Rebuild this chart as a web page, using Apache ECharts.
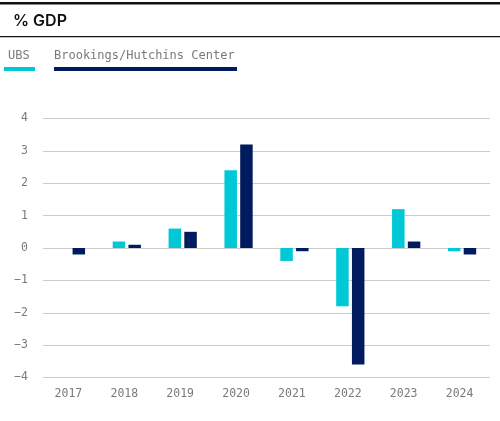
<!DOCTYPE html>
<html>
<head>
<meta charset="utf-8">
<script src="https://cdn.jsdelivr.net/npm/echarts@6/dist/echarts.min.js"></script>
<style>
  html, body { margin: 0; padding: 0; background: #fff; }
  #chart { width: 500px; height: 421px; }
</style>
</head>
<body>
<div id="chart"></div>
<script>
// Fiscal impulse estimates, % of GDP
const years = ['2017', '2018', '2019', '2020', '2021', '2022', '2023', '2024'];
const seriesNames = ['UBS', 'Brookings/Hutchins Center'];
const ubsValues = [null, 0.2, 0.6, 2.4, -0.4, -1.8, 1.2, -0.1];
const brookingsValues = [-0.2, 0.1, 0.5, 3.2, -0.1, -3.6, 0.2, -0.2];
const yTicks = [-4, -3, -2, -1, 0, 1, 2, 3, 4];

const colors = ['#00C8D7', '#001B5E'];
const mono = '"DejaVu Sans Mono", "Liberation Mono", monospace';

// legend: label text with a colour bar underneath
const legendLayout = [
  { textX: 8, barX: 4, barW: 31 },
  { textX: 54, barX: 54, barW: 183 }
];
const legendGraphics = [];
seriesNames.forEach((name, i) => {
  legendGraphics.push({
    type: 'text', left: legendLayout[i].textX, top: 50,
    style: { text: name, fill: '#7a7a7a', font: '12px ' + mono }
  });
  legendGraphics.push({
    type: 'rect', left: legendLayout[i].barX, top: 67,
    shape: { width: legendLayout[i].barW, height: 4 },
    style: { fill: colors[i] }
  });
});

const chart = echarts.init(document.getElementById('chart'), null, { renderer: 'canvas' });
chart.setOption({
  animation: false,
  backgroundColor: '#fff',
  graphic: [
    { type: 'rect', left: 0, top: 2, shape: { width: 500, height: 2.5 }, style: { fill: '#111' } },
    { type: 'text', left: 13, top: 13,
      style: { text: '% GDP', fill: '#111', font: '600 16px Inter, "Noto Sans", sans-serif' } },
    { type: 'rect', left: 0, top: 36, shape: { width: 500, height: 1.2 }, style: { fill: '#111' } }
  ].concat(legendGraphics),
  grid: { left: 43, right: 10, top: 118.5, bottom: 421 - 377.5, containLabel: false },
  xAxis: {
    type: 'category',
    data: years,
    axisLine: { show: false },
    axisTick: { show: false },
    axisLabel: { color: '#7a7a7a', fontFamily: mono, fontSize: 11.5, margin: 11, padding: [0, 5, 0, 0] }
  },
  yAxis: {
    type: 'value',
    min: yTicks[0],
    max: yTicks[yTicks.length - 1],
    interval: 1,
    axisLine: { show: false },
    axisTick: { show: false },
    splitLine: { lineStyle: { color: '#cccccc', width: 1.2 } },
    axisLabel: {
      color: '#7a7a7a', fontFamily: mono, fontSize: 11.5, margin: 15,
      formatter: v => (v < 0 ? '\u2212' + Math.abs(v) : String(v))
    }
  },
  series: [
    { name: seriesNames[0], type: 'bar', data: ubsValues, barWidth: 12.5, barGap: '26%',
      itemStyle: { color: colors[0] } },
    { name: seriesNames[1], type: 'bar', data: brookingsValues, barWidth: 12.5, barGap: '26%',
      itemStyle: { color: colors[1] } }
  ]
});
</script>
</body>
</html>
